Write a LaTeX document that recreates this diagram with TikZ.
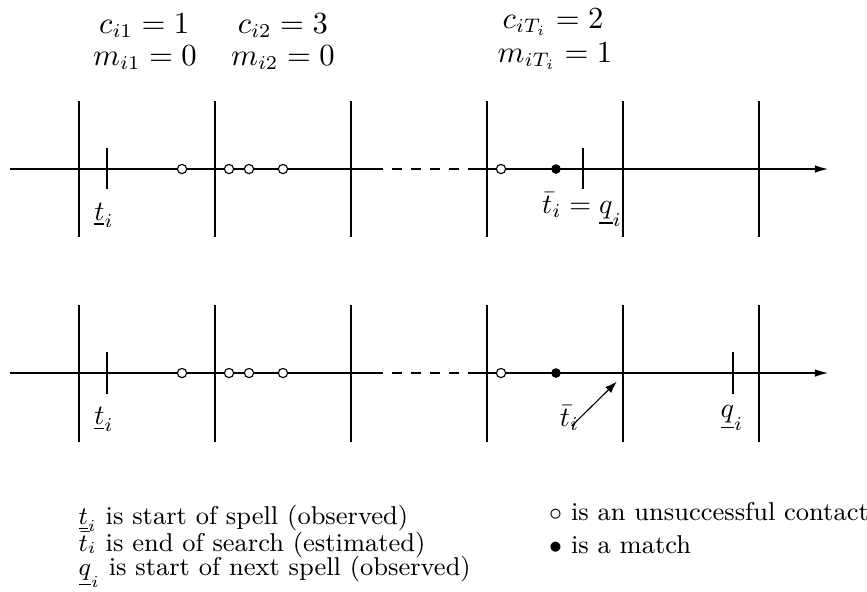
\documentclass[tikz,border=0pt]{standalone}
\usepackage{amsmath,amssymb}
\usetikzlibrary{arrows.meta}

\begin{document}
\begin{tikzpicture}[
  contact/.style={circle,draw,fill=white,inner sep=0pt,minimum size=3.3pt},
  match/.style={circle,draw,fill=black,inner sep=0pt,minimum size=3pt},
  gap/.style={dash pattern=on 3.6pt off 3.2pt},
  axis/.style={-{Latex[length=4.7pt,width=2.7pt]}},
  toplabel/.style={anchor=base,font=\fontsize{10.6}{13}\selectfont},
  legend/.style={anchor=base west,inner sep=0pt,font=\fontsize{9.2}{11}\selectfont}]
\useasboundingbox (0,0) rectangle (10.88,7.417);

% labels above the periods
\node [toplabel] (c1) at (1.81,7.00) {$c_{i1} = 1$};
\node [toplabel] (m1) at (1.82,6.60) {$m_{i1} = 0$};
\node [toplabel] (c2) at (3.55,7.00) {$c_{i2} = 3$};
\node [toplabel] (m2) at (3.55,6.60) {$m_{i2} = 0$};
\node [toplabel] (cT) at (6.94,7.065) {$c_{iT_i} = 2$};
\node [toplabel] (mT) at (6.965,6.638) {$m_{iT_i} = 1$};

% first time line
\draw (0.125,5.296) -- (4.681,5.296);
\draw [gap] (4.681,5.296) -- (5.936,5.296);
\draw [axis] (5.936,5.296) -- (10.391,5.296);
\foreach \x in {0.991,2.698,4.404,6.111,7.818,9.525}
  \draw (\x,4.442) -- (\x,6.149);
\draw (1.343,5.045) -- (1.343,5.559);
\draw (7.316,5.045) -- (7.316,5.559);
\foreach \x in {2.284,2.874,3.125,3.551,6.287}
  \node [contact] at (\x,5.296) {};
\node [match] (hit1) at (6.977,5.296) {};
\node (start1) at (1.305,4.72) {$\underline{t}_i$};
\node (end1) at (7.304,4.79) {$\bar{t}_i = \underline{q}_i$};

% second time line
\draw (0.125,2.736) -- (4.681,2.736);
\draw [gap] (4.681,2.736) -- (5.936,2.736);
\draw [axis] (5.936,2.736) -- (10.391,2.736);
\foreach \x in {0.991,2.698,4.404,6.111,7.818,9.525}
  \draw (\x,1.870) -- (\x,3.589);
\draw (1.343,2.472) -- (1.343,2.999);
\draw (9.198,2.472) -- (9.198,2.999);
\foreach \x in {2.284,2.874,3.125,3.551,6.287}
  \node [contact] at (\x,2.736) {};
\node [match] (hit2) at (6.977,2.736) {};
\node (start2) at (1.305,2.15) {$\underline{t}_i$};
\node (end2) at (7.147,2.17) {$\bar{t}_i$};
\node (next2) at (9.186,2.17) {$\underline{q}_i$};
\coordinate (tail) at (7.174,2.071);
\coordinate (tip) at (7.739,2.627);
\draw [-{Latex[length=4.2pt,width=3pt]}] (tail) -- (tip);

% legend
\node [legend] (l1) at (0.979,0.835) {$\underline{t}_i$ is start of spell (observed)};
\node [legend] (l2) at (0.979,0.502) {$\bar{t}_i$ is end of search (estimated)};
\node [legend] (l3) at (0.979,0.195) {$\underline{q}_i$ is start of next spell (observed)};
\node [legend] (r1) at (6.885,0.891) {$\circ$ is an unsuccessful contact};
\node [legend] (r2) at (6.885,0.477) {$\bullet$ is a match};
\end{tikzpicture}
\end{document}
